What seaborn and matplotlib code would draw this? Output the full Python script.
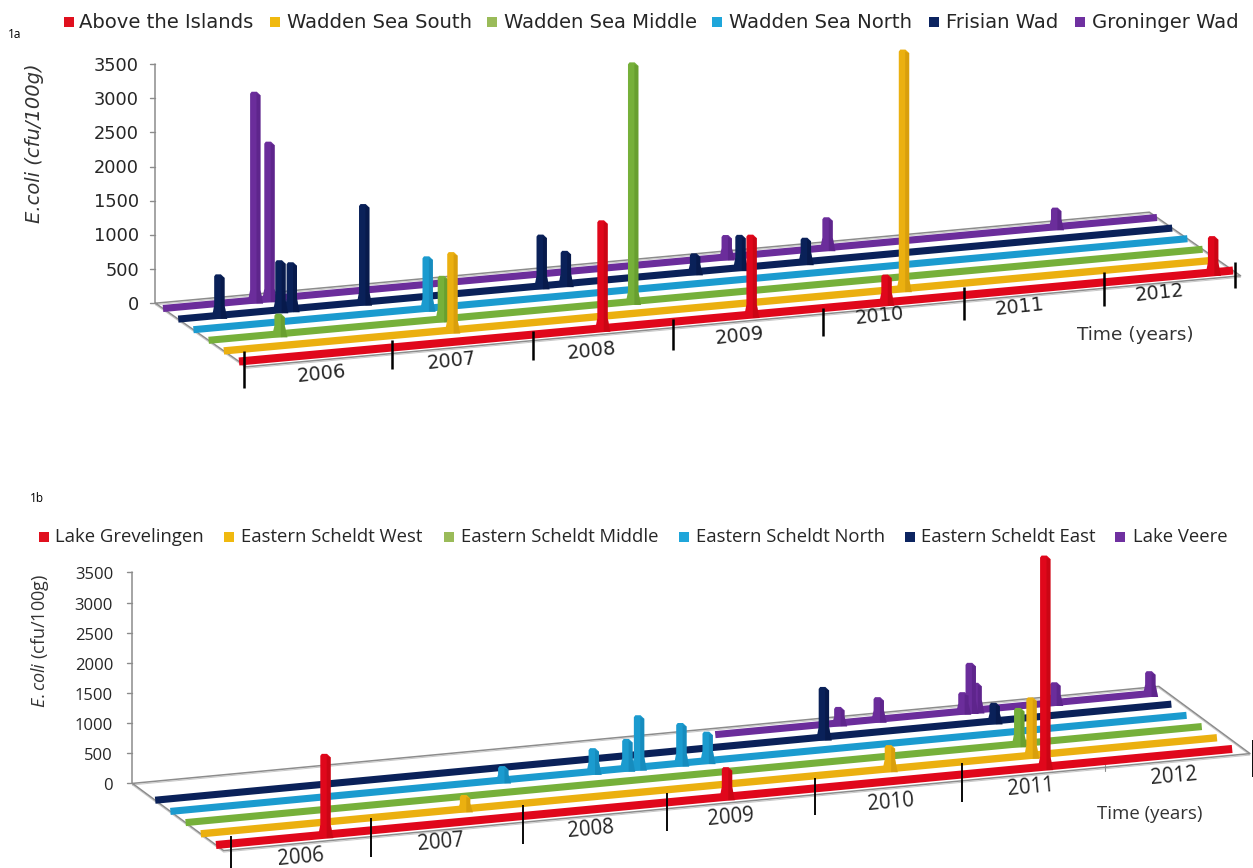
import numpy as np
import pandas as pd
import matplotlib
matplotlib.use("Agg")
import matplotlib.pyplot as plt
import seaborn as sns

# ------------------- data -------------------
YEARS = [2006, 2007, 2008, 2009, 2010, 2011, 2012]
VALUE_TICKS = [0, 500, 1000, 1500, 2000, 2500, 3000, 3500]

SERIES_A = ["Above the Islands", "Wadden Sea South", "Wadden Sea Middle",
            "Wadden Sea North", "Frisian Wad", "Groninger Wad"]
SERIES_B = ["Lake Grevelingen", "Eastern Scheldt West", "Eastern Scheldt Middle",
            "Eastern Scheldt North", "Eastern Scheldt East", "Lake Veere"]

A_ISLANDS_T = [2008.56, 2009.61, 2010.56, 2012.86]
A_ISLANDS_V = [1580, 1170, 405, 530]
A_SOUTH_T = [2007.61, 2010.79]
A_SOUTH_V = [1140, 3500]
A_MIDDLE_T = [2006.50, 2007.65, 2008.99]
A_MIDDLE_V = [295, 630, 3500]
A_NORTH_T = [2007.65]
A_NORTH_V = [760]
A_FRISIAN_T = [2006.29, 2006.72, 2006.80, 2007.31, 2008.56, 2008.73, 2009.64, 2009.96, 2010.42]
A_FRISIAN_V = [600, 725, 680, 1435, 750, 480, 270, 480, 350]
A_GRONINGER_T = [2006.65, 2006.75, 2009.97, 2010.68, 2012.29]
A_GRONINGER_V = [3050, 2300, 320, 445, 280]

B_GREVELINGEN_T = [2006.75, 2009.50, 2011.68]
B_GREVELINGEN_V = [1340, 490, 3500]
B_WEST_T = [2007.81, 2010.72, 2011.69]
B_WEST_V = [230, 390, 960]
B_MIDDLE_T = [2011.71]
B_MIDDLE_V = [595]
B_NORTH_T = [2008.28, 2008.90, 2009.13, 2009.21, 2009.50, 2009.68]
B_NORTH_V = [230, 385, 485, 860, 665, 480]
B_EAST_T = [2010.58, 2011.75]
B_EAST_V = [830, 300]
B_VEERE_T = [2010.79, 2011.06, 2011.64, 2011.69, 2011.73, 2012.27, 2012.92]
B_VEERE_V = [265, 365, 315, 790, 450, 335, 370]

# ------------------- style / layout -------------------
LINE_COLORS = ["#E0071B", "#EBB010", "#76B03A", "#1B9BCF", "#0A2159", "#6B2D9B"]
LEGEND_COLORS = ["#E0101E", "#F0B90F", "#9ABB59", "#1FA6DA", "#0C2460", "#6F30A0"]
DARK_COLORS = ["#B8050F", "#C8900A", "#5C9028", "#137FAE", "#061540", "#531F7E"]
RIBBON_LW = [5.8, 5.3, 5.1, 5.1, 5.1, 5.1]

PANEL_A = dict(x0=239, y0=361.5, dx=15.2, dy=10.6, px_year=142, rise_year=13.0, k=0.0683,
               t_end=2013.0, floor_end=2013.0, starts=[2006] * 6,
               ticks=[2006.035, 2007.077, 2008.07, 2009.056, 2010.113, 2011.106, 2012.092, 2013.014],
               up=[10, 7, 4, 3, 0, 8, 10, 8], down=[27, 22, 25, 28, 28, 25, 24, 18], tick_lw=2.0,
               font="DejaVu Sans", legend_fs=14.1, tick_fs=12.8, year_fs=14, time_fs=13.3,
               year_xy=[(322, 374), (452, 361), (592, 351), (740, 336), (880, 316), (1020, 307), (1160, 293)],
               time_xy=(1135, 335), rot=6, label_dy=1.5,
               sq_x=[69, 275, 492, 717, 934, 1080], txt_x=[79, 287, 504, 729, 946, 1092], leg_y=22.5,
               ylab_xy=(35, 143), ylab="E.coli (cfu/100g)", ylab_style="italic", ylab_fs=14,
               tag="1a", tag_xy=(15, 35), tick_label_x=139, small_ticks=[])
PANEL_B = dict(x0=216, y0=845, dx=15.2, dy=11.2, px_year=146, rise_year=13.8, k=0.0603,
               t_end=2012.96, floor_end=2013.03, starts=[2006] * 5 + [2009.94],
               ticks=[2006.10, 2007.06, 2008.10, 2009.09, 2010.10, 2011.11, 2013.1],
               up=[8, 12, 11, 9, 10, 11, 7], down=[24, 27, 28, 29, 27, 28, 30], tick_lw=1.5,
               font="Open Sans", legend_fs=13.3, tick_fs=12, year_fs=14.8, time_fs=13.4,
               year_xy=[(301, 857), (441, 842), (591, 829), (731, 817), (891, 802), (1031, 787), (1174, 776)],
               time_xy=(1150, 814), rot=5, label_dy=3,
               sq_x=[44, 229, 449, 684, 910, 1120], txt_x=[55, 241, 461, 696, 921, 1133], leg_y=537.5,
               ylab_xy=(40, 641), ylab="$\\mathit{E{.}coli}$ (cfu/100g)", ylab_style="normal", ylab_fs=13,
               tag="1b", tag_xy=(37, 498), tick_label_x=113, small_ticks=[2012.09])

sns.set_theme(style="white")
plt.rcParams["font.family"] = ["DejaVu Sans"]
plt.rcParams["mathtext.fontset"] = "custom"
plt.rcParams["mathtext.it"] = "Open Sans:italic"
plt.rcParams["mathtext.rm"] = "Open Sans"

W, H = 1253, 868
fig = plt.figure(figsize=(W / 100, H / 100), dpi=100, facecolor="white")


def project(p, t, s, v=0.0):
    """Oblique projection of (year, series depth, value) to figure pixels."""
    t = np.asarray(t, dtype=float)
    x = p["x0"] - p["dx"] * s + p["px_year"] * (t - 2006)
    y = p["y0"] - p["dy"] * s - p["rise_year"] * (t - 2006) - p["k"] * np.asarray(v, dtype=float)
    return x, y


def draw_spike(ax, p, s, t, v, z):
    bx, by = project(p, t, s, 0)
    tx, ty = project(p, t, s, v)
    hw = 5.2
    flare = 7.8
    cap = 2.0
    foot = by + 3.5
    neck = by - min(10.0, 0.4 * (by - ty))
    xs = [bx - flare, bx - hw, tx - hw, tx - hw + 1.5, tx + 1.5, tx + hw, bx + hw, bx + flare]
    ys = [foot, neck, ty + 2, ty, ty, ty + cap + 1.5, neck, foot]
    ax.fill(xs, ys, color=LINE_COLORS[s], lw=0, zorder=z + 0.2)
    ax.fill([bx + 1.2, tx + 1.2, tx + hw, bx + hw, bx + flare, bx + 2.5],
            [foot, ty + cap, ty + cap + 1.5, neck, foot, foot],
            color=DARK_COLORS[s], lw=0, alpha=0.5, zorder=z + 0.3)


def draw_panel(ax, p, names, spikes):
    ax.set_xlim(0, W)
    ax.axis("off")
    f = p["font"]
    grey = "#8C8C8C"

    # floor outline and value axis
    corners = [(2006, 5.5), (p["floor_end"], 5.5), (p["floor_end"], -0.5), (2006, -0.5), (2006, 5.5)]
    cx, cy = zip(*[project(p, t, s) for t, s in corners])
    ax.plot(cx, cy, color=grey, lw=1.1, zorder=1)
    ax.plot(np.array(cx), np.array(cy) + 1.5, color="#C8C8C8", lw=0.7, zorder=0.9)
    ax_x, ax_bot = project(p, 2006, 5.5, 0)
    for v in VALUE_TICKS:
        _, yy = project(p, 2006, 5.5, v)
        ax.plot([ax_x - 5, ax_x], [yy, yy], color=grey, lw=1.0, zorder=1)
        ax.text(p["tick_label_x"], yy + p["label_dy"], str(v), ha="right", va="center", family=f,
                fontsize=p["tick_fs"], color="#262626")
    _, top = project(p, 2006, 5.5, 3500)
    ax.plot([ax_x, ax_x], [ax_bot, top], color=grey, lw=1.1, zorder=1)

    # series, back to front
    for s in range(len(names) - 1, -1, -1):
        z = 10 + (5 - s) * 2
        tt = np.array([p["starts"][s], p["t_end"]])
        xx, yy = project(p, tt, s)
        df = pd.DataFrame({"px": xx, "py": yy, "series": names[s]})
        sns.lineplot(data=df, x="px", y="py", hue="series", palette=[LINE_COLORS[s]], ax=ax,
                     sort=False, estimator=None, legend=False, lw=RIBBON_LW[s],
                     solid_capstyle="butt", zorder=z)
        times, vals = spikes[s]
        for t, v in zip(times, vals):
            draw_spike(ax, p, s, t, v, z)

    # time ticks
    for t, u, d in zip(p["ticks"], p["up"], p["down"]):
        xx, yy = project(p, t, 0)
        ax.plot([xx, xx], [yy - u, yy + d], color="black", lw=p["tick_lw"] * 0.9,
                solid_capstyle="butt", zorder=30)
    for t in p["small_ticks"]:
        xx, yy = project(p, t, 0)
        ax.plot([xx, xx], [yy + 4, yy + 10], color=grey, lw=0.8, zorder=2)

    # labels
    for yr, (lx, ly) in zip(YEARS, p["year_xy"]):
        ax.text(lx, ly, str(yr), ha="center", va="center", rotation=p["rot"], family=f,
                fontsize=p["year_fs"], color="#262626", zorder=31)
    ax.text(*p["time_xy"], "Time (years)", ha="center", va="center", family=f,
            fontsize=p["time_fs"], color="#333333")
    ax.text(*p["ylab_xy"], p["ylab"], ha="center", va="center", rotation=90, family=f,
            style=p["ylab_style"], fontsize=p["ylab_fs"], color="#333333")
    ax.text(*p["tag_xy"], p["tag"], ha="center", va="center", family="Open Sans",
            fontsize=8.5, color="black")

    # legend
    for i, name in enumerate(names):
        ax.scatter([p["sq_x"][i]], [p["leg_y"] - 0.5], marker="s", s=48, color=LEGEND_COLORS[i],
                   linewidths=0, zorder=5)
        ax.text(p["txt_x"][i], p["leg_y"], name, ha="left", va="center", family=f,
                fontsize=p["legend_fs"], color="#262626")


ax_a = fig.add_axes([0, 0.5, 1, 0.5])
ax_a.set_ylim(H / 2, 0)
draw_panel(ax_a, PANEL_A, SERIES_A,
           [(A_ISLANDS_T, A_ISLANDS_V), (A_SOUTH_T, A_SOUTH_V), (A_MIDDLE_T, A_MIDDLE_V),
            (A_NORTH_T, A_NORTH_V), (A_FRISIAN_T, A_FRISIAN_V), (A_GRONINGER_T, A_GRONINGER_V)])
ax_a.set_ylim(H / 2, 0)

ax_b = fig.add_axes([0, 0, 1, 0.5])
ax_b.set_ylim(H, H / 2)
draw_panel(ax_b, PANEL_B, SERIES_B,
           [(B_GREVELINGEN_T, B_GREVELINGEN_V), (B_WEST_T, B_WEST_V), (B_MIDDLE_T, B_MIDDLE_V),
            (B_NORTH_T, B_NORTH_V), (B_EAST_T, B_EAST_V), (B_VEERE_T, B_VEERE_V)])
ax_b.set_ylim(H, H / 2)
for a in (ax_a, ax_b):
    a.set_xlim(0, W)
    a.patch.set_alpha(0)

fig.savefig("out.png", dpi=100, facecolor="white")
